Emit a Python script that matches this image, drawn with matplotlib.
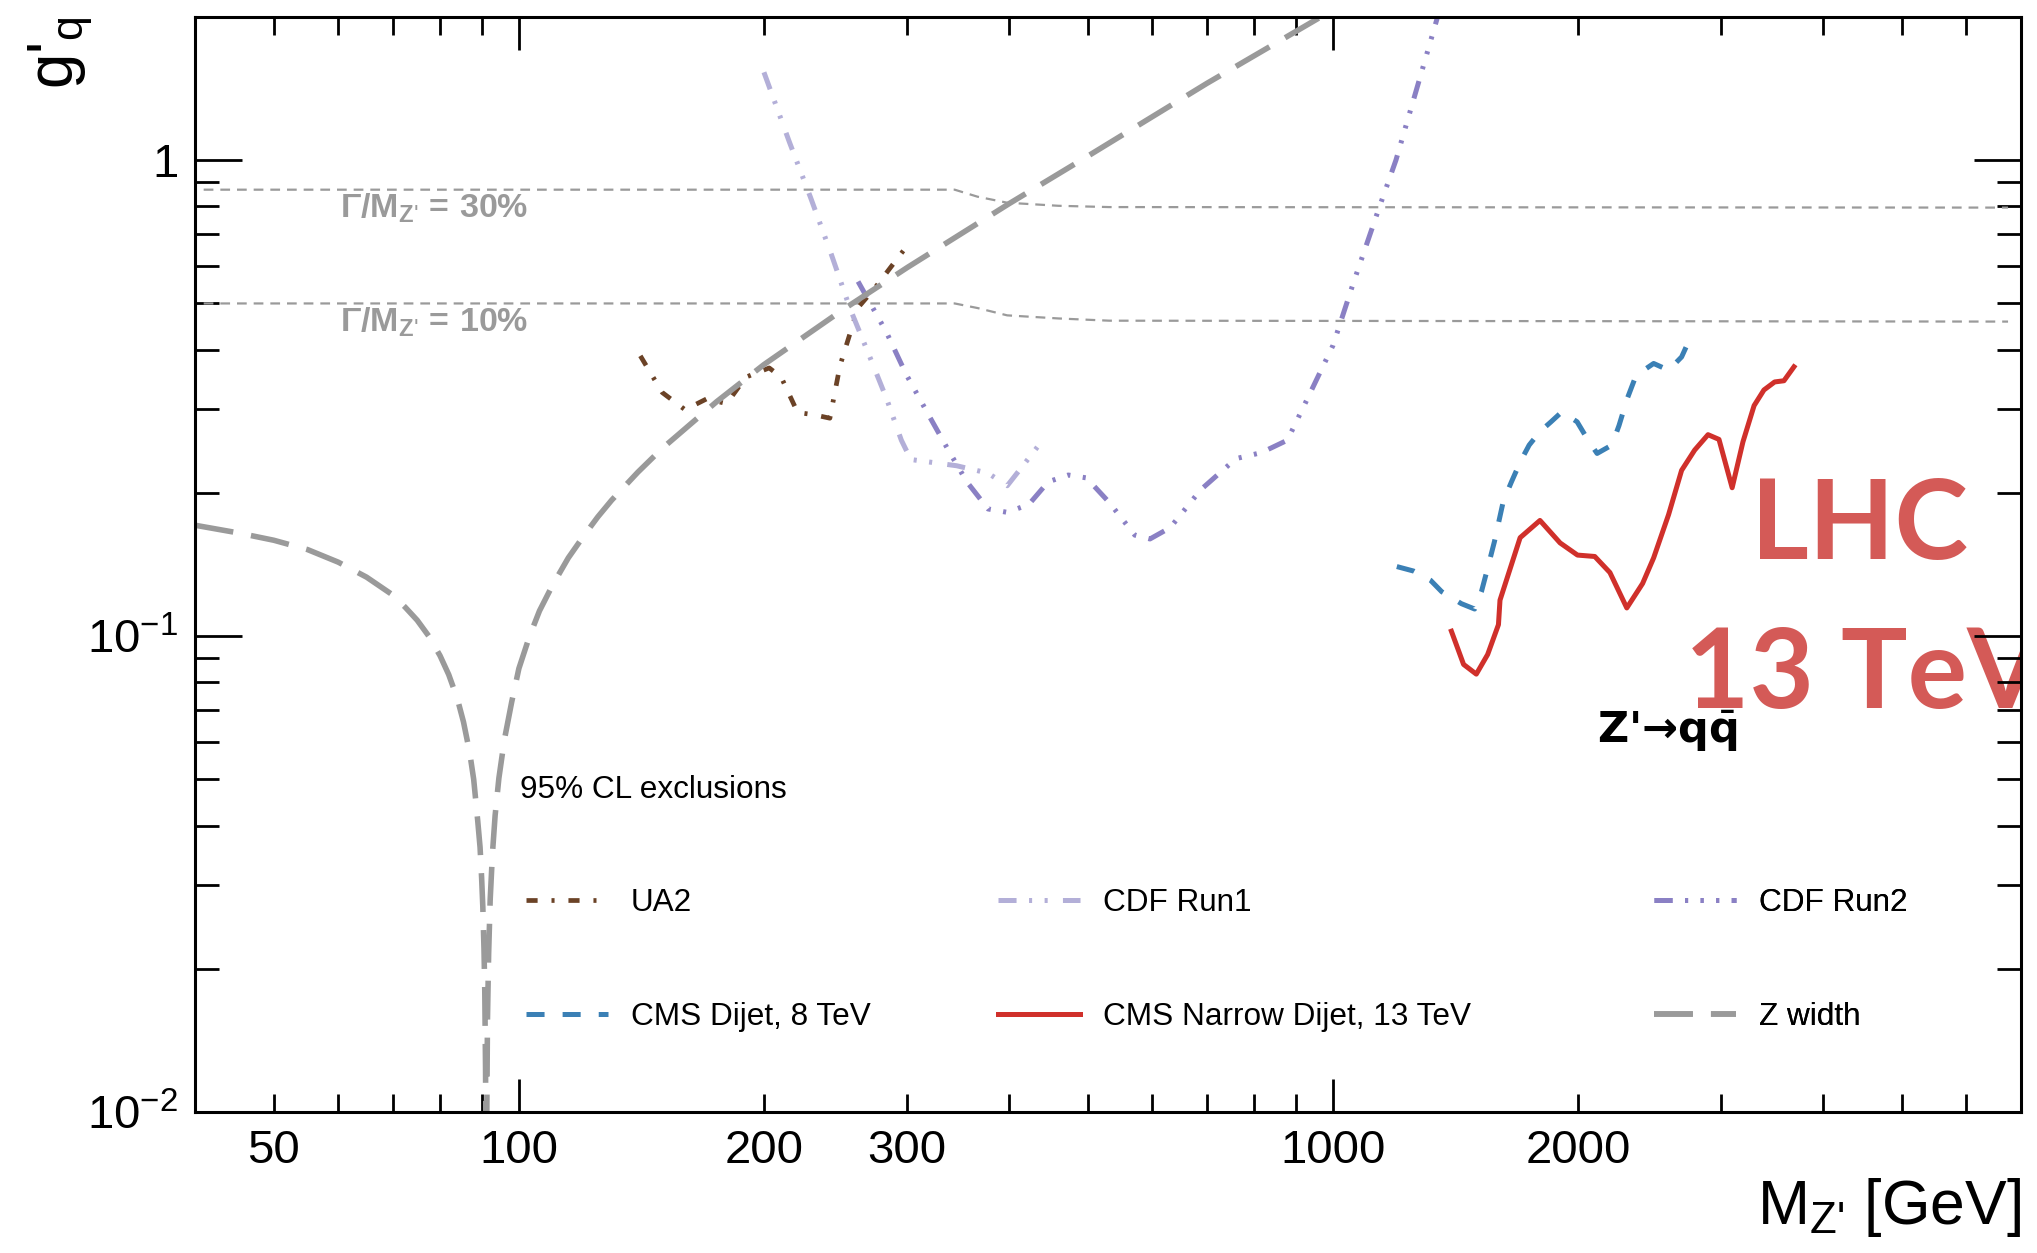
import matplotlib
matplotlib.use('Agg')
from matplotlib import pyplot as plt
from matplotlib.ticker import FixedLocator, FuncFormatter, NullFormatter

plt.rcParams['font.family'] = ['Liberation Sans', 'DejaVu Sans']
plt.rcParams['mathtext.fontset'] = 'custom'
plt.rcParams['mathtext.rm'] = 'Liberation Sans'
plt.rcParams['mathtext.it'] = 'Liberation Sans:italic'
plt.rcParams['mathtext.bf'] = 'Liberation Sans:bold'
plt.rcParams['lines.scale_dashes'] = False

# limits
ua2_mass = [141, 150, 160, 170, 180, 190, 203, 210, 220, 230, 241, 248, 261, 274, 297]
ua2_g = [0.388, 0.325, 0.299, 0.315, 0.308, 0.350, 0.366, 0.350, 0.295, 0.292,
         0.287, 0.370, 0.490, 0.540, 0.647]

cdf1_mass = [200, 215, 228, 242, 255, 270, 283, 295, 303, 345, 377, 398, 416, 443]
cdf1_g = [1.53, 1.09, 0.838, 0.634, 0.489, 0.385, 0.315, 0.258, 0.235, 0.228,
          0.220, 0.207, 0.228, 0.262]

cdf2_mass = [261, 283, 299, 321, 336, 355, 377, 398, 423, 447, 473, 498, 531, 571,
             596, 631, 688, 760, 817, 879, 930, 1000, 1059, 1138, 1195, 1270, 1350]
cdf2_g = [0.556, 0.434, 0.355, 0.285, 0.248, 0.211, 0.185, 0.182, 0.189, 0.211,
          0.218, 0.215, 0.191, 0.163, 0.160, 0.169, 0.203, 0.236, 0.243, 0.258,
          0.315, 0.408, 0.551, 0.789, 1.00, 1.43, 2.05]

cms8_mass = [1198, 1256, 1318, 1360, 1438, 1493, 1522, 1549, 1579, 1619, 1657, 1700,
             1742, 1796, 1853, 1911, 1995, 2058, 2111, 2201, 2246, 2298, 2357, 2477,
             2584, 2681, 2733]
cms8_g = [0.140, 0.137, 0.131, 0.124, 0.117, 0.114, 0.124, 0.139, 0.158, 0.192,
          0.211, 0.233, 0.252, 0.269, 0.282, 0.296, 0.282, 0.258, 0.242, 0.252,
          0.277, 0.315, 0.353, 0.374, 0.362, 0.386, 0.415]

cms13_mass = [1398, 1447, 1500, 1549, 1597, 1604, 1698, 1796, 1901, 1997, 2097, 2189,
              2296, 2401, 2477, 2584, 2681, 2782, 2889, 2980, 3093, 3189, 3291, 3384,
              3488, 3581, 3684]
cms13_g = [0.1024, 0.0872, 0.0832, 0.0915, 0.1057, 0.119, 0.161, 0.175, 0.157, 0.148,
           0.147, 0.136, 0.1146, 0.129, 0.146, 0.180, 0.223, 0.246, 0.265, 0.259,
           0.205, 0.256, 0.305, 0.329, 0.342, 0.344, 0.368]

zw_mass = [40, 45, 50, 55, 60, 65, 70, 72.5, 75, 77.5, 80, 82, 84, 85.5, 87, 88, 89,
           89.6, 90, 90.3, 90.6, 90.8, 91.0, 91.1, 91.3, 91.5, 91.8, 92.2, 92.8, 93.5,
           94.5, 96, 98, 100, 103, 106, 110, 115, 120, 125, 130, 140, 150, 175, 200,
           250, 300, 400, 500, 700, 1000]
zw_g = [0.171, 0.165, 0.159, 0.152, 0.143, 0.133, 0.122, 0.115, 0.108, 0.100,
        0.091, 0.083, 0.074, 0.066, 0.057, 0.050, 0.041, 0.036, 0.031, 0.027, 0.022,
        0.018, 0.0123, 0.0085, 0.0093, 0.0157, 0.0215, 0.0279, 0.0350, 0.0420,
        0.0503, 0.0607, 0.0728, 0.0855, 0.0997, 0.113, 0.128, 0.146, 0.162, 0.178,
        0.193, 0.221, 0.248, 0.311, 0.372, 0.485, 0.595, 0.81, 1.02, 1.45, 2.07]

width_mass = [41, 343, 366, 398, 460, 531, 6750]
w30_g = [0.867, 0.867, 0.838, 0.814, 0.802, 0.797, 0.795]
w10_g = [0.500, 0.500, 0.489, 0.472, 0.465, 0.460, 0.458]

x_labelled = [50, 100, 200, 300, 1000, 2000]

GREY = '#9a9a9a'
LHC_RED = '#d45a57'

fig = plt.figure(figsize=(20.37, 12.53), dpi=100)
ax = fig.add_axes([0.0957, 0.1125, 0.8964, 0.874])

ax.plot(width_mass, w30_g, color=GREY, lw=1.6, ls=(0, (7, 5)))
ax.plot(width_mass, w10_g, color=GREY, lw=1.6, ls=(0, (7, 5)))

h_ua2, = ax.plot(ua2_mass, ua2_g, color='#6b4226', lw=3.4,
                 ls=(0, (8, 10, 2.2, 10)), label='UA2')
h_cdf1, = ax.plot(cdf1_mass, cdf1_g, color='#b3afd8', lw=3.6,
                  ls=(0, (13, 9, 2.2, 9, 2.2, 11)), label='CDF Run1')
h_cdf2, = ax.plot(cdf2_mass, cdf2_g, color='#8a80c4', lw=3.6,
                  ls=(0, (13, 9, 2.2, 9, 2.2, 9, 2.2, 9)), label='CDF Run2')
h_cms8, = ax.plot(cms8_mass, cms8_g, color='#3b80b5', lw=3.6,
                  ls=(0, (13, 13)), label='CMS Dijet, 8 TeV')
h_cms13, = ax.plot(cms13_mass, cms13_g, color='#d0302b', lw=3.6,
                   label='CMS Narrow Dijet, 13 TeV')
h_zw, = ax.plot(zw_mass, zw_g, color=GREY, lw=4.0, ls=(0, (28, 13)),
                label='Z width')

ax.set_xscale('log')
ax.set_yscale('log')
ax.set_xlim(40, 7000)
ax.set_ylim(0.01, 2)

ax.xaxis.set_major_locator(FixedLocator([100, 1000]))
ax.xaxis.set_minor_locator(FixedLocator([m * d for d in (10, 100, 1000)
                                         for m in range(2, 10) if 40 < m * d < 7000]))
lab = FuncFormatter(lambda v, pos: f'{v:g}' if round(v) in x_labelled else '')
ax.xaxis.set_major_formatter(lab)
ax.xaxis.set_minor_formatter(lab)

ax.yaxis.set_major_locator(FixedLocator([0.01, 0.1, 1]))
ax.yaxis.set_minor_locator(FixedLocator([m * d for d in (0.01, 0.1)
                                         for m in range(2, 10)]))
ax.yaxis.set_major_formatter(FuncFormatter(
    lambda v, pos: {0.01: r'$10^{-2}$', 0.1: r'$10^{-1}$', 1: '1'}.get(round(v, 3), '')))
ax.yaxis.set_minor_formatter(NullFormatter())

ax.tick_params(axis='both', which='both', direction='in', top=True, right=True,
               width=2, labelsize=34, colors='black')
ax.tick_params(axis='x', which='major', length=24, pad=12)
ax.tick_params(axis='x', which='minor', length=13, pad=12)
ax.tick_params(axis='y', which='major', length=34, pad=12)
ax.tick_params(axis='y', which='minor', length=17)
for sp in ax.spines.values():
    sp.set_linewidth(2.2)

ax.set_xlabel(r"M$_{\mathregular{Z\text{'}}}$ [GeV]", fontsize=45, loc='right')
ax.xaxis.set_label_coords(1.0, -0.058)
ax.set_ylabel(r"g$'_{\mathregular{q}}$", fontsize=46, loc='top')
ax.yaxis.set_label_coords(-0.055, 1.0)

ax.text(0.0794, 0.8256, r"$\mathbf{\Gamma/M_{Z\text{'}}\/=\/30\%}$", transform=ax.transAxes,
        color=GREY, fontsize=24.5, va='center', ha='left')
ax.text(0.0794, 0.7215, r"$\mathbf{\Gamma/M_{Z\text{'}}\/=\/10\%}$", transform=ax.transAxes,
        color=GREY, fontsize=24.5, va='center', ha='left')

ax.text(0.852, 0.505, 'LHC', transform=ax.transAxes, color=LHC_RED, fontsize=80,
        fontfamily='Lato', fontweight='bold', va='baseline', zorder=1, clip_on=True)
ax.text(0.816, 0.369, '13 TeV', transform=ax.transAxes, color=LHC_RED, fontsize=80,
        fontfamily='Lato', fontweight='bold', va='baseline', zorder=1, clip_on=True)
ax.text(0.768, 0.337, "Z'\u2192q" + r"$\bar{\mathbf{q}}$", transform=ax.transAxes,
        fontsize=31, fontfamily='DejaVu Sans', fontweight='bold',
        math_fontfamily='dejavusans', va='baseline')

ax.text(0.178, 0.294, '95% CL exclusions', transform=ax.transAxes, fontsize=22.7,
        va='center')

columns = [([h_ua2, h_cms8], 0.1813), ([h_cdf1, h_cms13], 0.4397),
           ([h_cdf2, h_zw], 0.799)]
for handles, x0 in columns:
    leg = ax.legend(handles=handles, loc='center left', bbox_to_anchor=(x0, 0.139),
                    frameon=False, fontsize=22.7, handlelength=2.6, handletextpad=0.73,
                    labelspacing=2.65, borderpad=0, borderaxespad=0)
    ax.add_artist(leg)

fig.savefig('out.png', dpi=100)
